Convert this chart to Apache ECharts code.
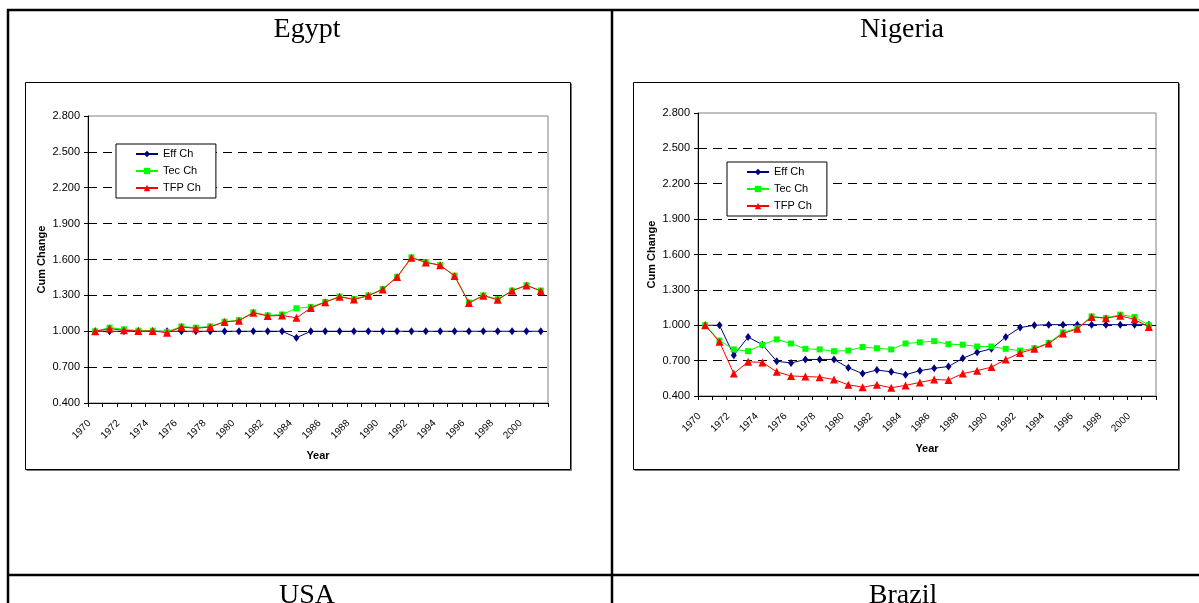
<!DOCTYPE html>
<html>
<head>
<meta charset="utf-8">
<script src="https://cdn.jsdelivr.net/npm/echarts@6/dist/echarts.min.js"></script>
<style>
  html, body { margin: 0; padding: 0; background: #fff; }
  #c { width: 1199px; height: 603px; }
</style>
</head>
<body>
<div id="c"></div>
<script>
// Years on the category axis
const years = ['1970','1971','1972','1973','1974','1975','1976','1977','1978','1979',
               '1980','1981','1982','1983','1984','1985','1986','1987','1988','1989',
               '1990','1991','1992','1993','1994','1995','1996','1997','1998','1999',
               '2000','2001'];

// Value axis range and step (labels 0.400 … 2.800)
const Y_MIN = 0.4;
const Y_MAX = 2.8;
const Y_STEP = 0.3;

const seriesNames = ['Eff Ch', 'Tec Ch', 'TFP Ch'];

// Egypt: cumulative change indices
const egyptEff = [1.000,1.000,1.000,1.000,1.000,1.000,1.000,1.000,1.000,1.000,
                  1.000,1.000,1.000,1.000,0.946,1.000,1.000,1.000,1.000,1.000,
                  1.000,1.000,1.000,1.000,1.000,1.000,1.000,1.000,1.000,1.000,
                  1.000,1.000];
const egyptTec = [1.000,1.030,1.016,1.005,1.005,0.995,1.040,1.030,1.040,1.080,
                  1.092,1.158,1.133,1.140,1.192,1.204,1.245,1.290,1.270,1.300,
                  1.353,1.455,1.618,1.578,1.553,1.465,1.240,1.300,1.268,1.340,
                  1.385,1.340];
const egyptTFP = [1.000,1.022,1.008,1.002,1.002,0.988,1.036,1.024,1.036,1.078,
                  1.088,1.155,1.128,1.132,1.112,1.194,1.243,1.288,1.265,1.297,
                  1.350,1.453,1.615,1.575,1.552,1.462,1.236,1.297,1.264,1.338,
                  1.383,1.337];

// Nigeria: cumulative change indices
const nigeriaEff = [1.000,1.000,0.745,0.900,0.835,0.695,0.680,0.710,0.710,0.710,
                    0.640,0.590,0.620,0.605,0.580,0.615,0.635,0.650,0.720,0.770,
                    0.800,0.900,0.980,1.000,1.005,1.005,1.005,1.005,1.005,1.005,
                    1.005,1.005];
const nigeriaTec = [1.000,0.870,0.795,0.780,0.835,0.880,0.845,0.800,0.795,0.780,
                    0.785,0.815,0.805,0.795,0.845,0.855,0.865,0.840,0.835,0.820,
                    0.820,0.800,0.785,0.805,0.850,0.940,0.975,1.075,1.060,1.090,
                    1.070,1.000];
const nigeriaTFP = [1.000,0.860,0.590,0.690,0.685,0.605,0.570,0.565,0.560,0.540,
                    0.495,0.475,0.495,0.470,0.490,0.515,0.540,0.535,0.590,0.615,
                    0.645,0.710,0.765,0.800,0.845,0.930,0.970,1.070,1.060,1.080,
                    1.050,0.985];

const SANS = '"Liberation Sans", Arial, sans-serif';
const SERIF = '"Liberation Serif", "Times New Roman", serif';

const colors = ['#000080', '#00ff00', '#ff0000'];
const symbols = ['diamond', 'rect', 'triangle'];
const symbolSizes = [[6, 8], 6, 8];

function xAxisCfg(gridIndex) {
  return {
    type: 'category', gridIndex, data: years, boundaryGap: true,
    name: 'Year', nameLocation: 'middle', nameGap: 47,
    nameTextStyle: { fontFamily: SANS, fontWeight: 'bold', fontSize: 11, color: '#000' },
    axisLine: { show: true, lineStyle: { color: '#000', width: 1 } },
    axisTick: { show: true, interval: 0, length: 4, lineStyle: { color: '#000' } },
    axisLabel: { interval: 1, rotate: 45, fontFamily: SANS, fontSize: 10, color: '#000',
                 margin: 13, padding: [0, 8, 0, 0] },
    splitLine: { show: false }
  };
}

function yAxisCfg(gridIndex) {
  return {
    type: 'value', gridIndex, min: Y_MIN, max: Y_MAX, interval: Y_STEP,
    name: 'Cum Change', nameLocation: 'middle', nameGap: 41, nameRotate: 90,
    nameTextStyle: { fontFamily: SANS, fontWeight: 'bold', fontSize: 11, color: '#000' },
    axisLine: { show: true, lineStyle: { color: '#000', width: 1 } },
    axisTick: { show: true, length: 4, lineStyle: { color: '#000' } },
    axisLabel: { fontFamily: SANS, fontSize: 11, color: '#000', margin: 8,
                 formatter: v => v.toFixed(3) },
    splitLine: { show: true, showMinLine: false, showMaxLine: false,
                 lineStyle: { color: '#000', width: 1, type: [9, 6] } }
  };
}

function lineSeries(idx, gridIndex, data) {
  return {
    type: 'line', name: seriesNames[idx], data,
    xAxisIndex: gridIndex, yAxisIndex: gridIndex,
    symbol: symbols[idx], symbolSize: symbolSizes[idx], showSymbol: true,
    lineStyle: { color: colors[idx], width: 1 },
    itemStyle: { color: colors[idx] },
    animation: false, z: 2 + idx
  };
}

function legendCfg(left, top) {
  return {
    data: seriesNames, orient: 'vertical', left, top,
    backgroundColor: '#fff', borderColor: '#000', borderWidth: 1,
    padding: [4, 15, 4, 19], itemGap: 5, itemWidth: 22, itemHeight: 8, itemTextGap: 4,
    textStyle: { fontFamily: SANS, fontSize: 11, color: '#000', lineHeight: 12 },
    selectedMode: false, z: 10
  };
}

function titleText(text, x, y) {
  return {
    type: 'text', silent: true, z: 20,
    style: { text, x, y, font: '28px ' + SERIF, fill: '#000',
             textAlign: 'center', textVerticalAlign: 'middle',
             align: 'center', verticalAlign: 'middle' }
  };
}

function hLine(x1, x2, y, w, color) {
  return { type: 'line', silent: true, z: 20,
           shape: { x1, y1: y, x2, y2: y }, style: { stroke: color, lineWidth: w } };
}
function vLine(x, y1, y2, w, color) {
  return { type: 'line', silent: true, z: 20,
           shape: { x1: x, y1, x2: x, y2 }, style: { stroke: color, lineWidth: w } };
}
function chartBox(x, y, w, h) {
  return [
    hLine(x + 1, x + w + 1, y + h + 1, 1, '#777'),
    vLine(x + w + 1, y + 1, y + h + 1, 1, '#777'),
    { type: 'rect', silent: true, z: 1,
      shape: { x, y, width: w, height: h },
      style: { fill: 'none', stroke: '#000', lineWidth: 1 } }
  ];
}

const option = {
  backgroundColor: '#fff',
  animation: false,
  grid: [
    { left: 88, top: 116, width: 460, height: 287, show: true,
      borderColor: '#808080', borderWidth: 1, backgroundColor: '#fff' },
    { left: 698, top: 113, width: 458, height: 283, show: true,
      borderColor: '#808080', borderWidth: 1, backgroundColor: '#fff' }
  ],
  xAxis: [xAxisCfg(0), xAxisCfg(1)],
  yAxis: [yAxisCfg(0), yAxisCfg(1)],
  legend: [legendCfg(116, 144), legendCfg(727, 162)],
  series: [
    lineSeries(0, 0, egyptEff),
    lineSeries(1, 0, egyptTec),
    lineSeries(2, 0, egyptTFP),
    lineSeries(0, 1, nigeriaEff),
    lineSeries(1, 1, nigeriaTec),
    lineSeries(2, 1, nigeriaTFP)
  ],
  graphic: [
    // table rules
    hLine(7, 1199, 10, 2.5, '#000'),
    hLine(7, 1199, 575, 2.5, '#000'),
    vLine(8, 9, 603, 2.5, '#000'),
    vLine(612, 9, 603, 2.5, '#000'),
    // cell headings
    titleText('Egypt', 307, 30),
    titleText('Nigeria', 902, 30),
    titleText('USA', 307, 596),
    titleText('Brazil', 903, 596),
    // chart frames
    ...chartBox(25.5, 82.5, 545, 387),
    ...chartBox(633.5, 82.5, 545, 387)
  ]
};

const chart = echarts.init(document.getElementById('c'), null, { renderer: 'canvas' });
chart.setOption(option);
</script>
</body>
</html>
